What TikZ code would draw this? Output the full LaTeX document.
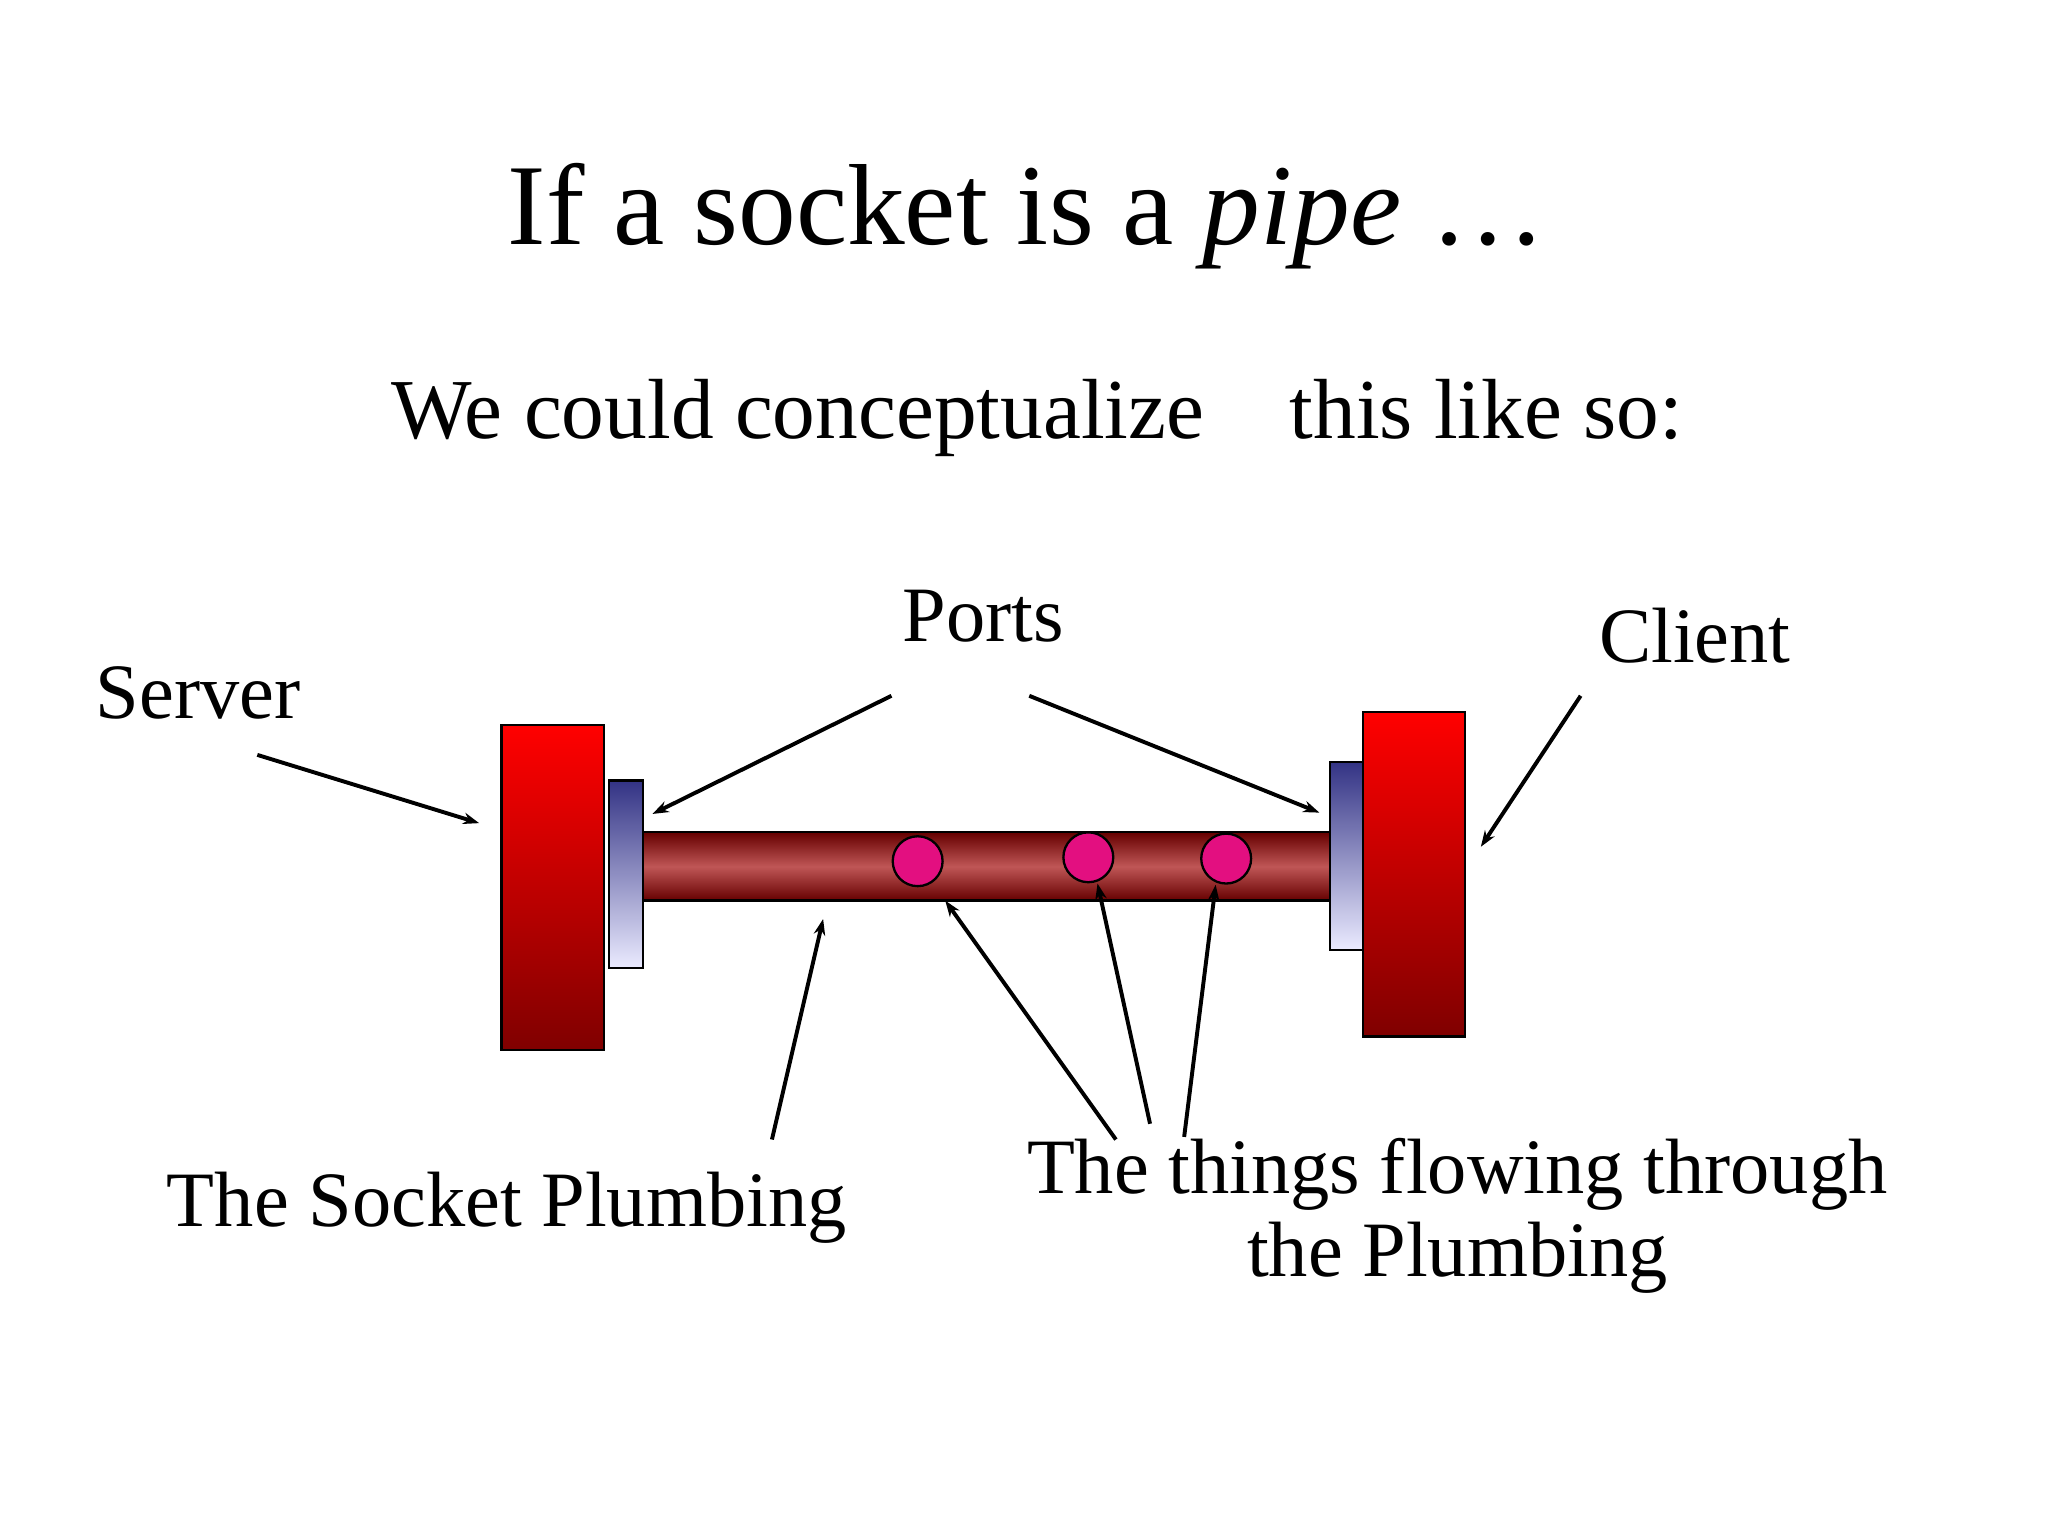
\documentclass[tikz,border=0pt]{standalone}
\usepackage{fontspec}
\setmainfont{Liberation Serif}
\usetikzlibrary{arrows.meta}
\begin{document}
\begin{tikzpicture}[x=0.02cm,y=-0.02cm,
  lbl/.style={inner sep=0pt,font=\fontsize{34}{40}\selectfont},
  arr/.style={line width=1.7pt,-{Stealth[length=7pt,width=5pt]}},
  block/.style={draw=black,line width=1pt,top color=red,bottom color=red!50!black},
  port/.style={draw=black,line width=1pt,top color=blue!40!black!80,bottom color=blue!8!white},
  ball/.style={circle,draw=black,line width=1pt,fill=magenta!80!purple,minimum size=0.76cm,inner sep=0pt}]
\useasboundingbox (0,0) rectangle (1560,1170);
\fill[white] (0,0) rectangle (1560,1170);
\node[inner sep=0pt,font=\fontsize{50}{56}\selectfont] (title) at (782,165) {If a socket is a \textit{pipe} \dots};
\node[inner sep=0pt,font=\fontsize{37}{44}\selectfont] (sub) at (790,318) {We could conceptualize\quad this like so:};
% pipe
\shade[top color=red!40!black,bottom color=red!40!black,middle color=red!55!white!75!black] (490,634) rectangle (1013,686);
\draw[line width=1pt] (490,634) rectangle (1013,686);
\node[block,minimum width=1.56cm,minimum height=4.96cm,inner sep=0pt] (server) at (421,676) {};
\node[block,minimum width=1.56cm,minimum height=4.94cm,inner sep=0pt] (client) at (1077,666) {};
\node[port,minimum width=0.52cm,minimum height=2.86cm,inner sep=0pt] (lport) at (477,666) {};
\node[port,minimum width=0.5cm,minimum height=2.86cm,inner sep=0pt] (rport) at (1025.5,652) {};
\node[ball] (b1) at (699,656) {};
\node[ball] (b2) at (829,653) {};
\node[ball] (b3) at (934,654) {};
% labels
\node[lbl] (ports) at (749,469) {Ports};
\node[lbl] (cl) at (1291,484) {Client};
\node[lbl] (sv) at (151,528) {Server};
\node[lbl] (sp) at (386,920) {The Socket Plumbing};
\node[lbl,align=center] (things) at (1110,926) {The things flowing through\\[-4pt]the Plumbing};
% coordinates
\coordinate (s1) at (196,575); \coordinate (s2) at (365,627);
\coordinate (p1) at (679,530); \coordinate (p2) at (497,620);
\coordinate (p3) at (784,530); \coordinate (p4) at (1005,619);
\coordinate (c1) at (1204,530); \coordinate (c2) at (1128,645);
\coordinate (q1) at (588,868); \coordinate (q2) at (627,700);
\coordinate (t1) at (850,868); \coordinate (t2) at (720,686);
\coordinate (t3) at (876,856); \coordinate (t4) at (836,673);
\coordinate (t5) at (902,866); \coordinate (t6) at (926,674);
\draw[arr] (s1) -- (s2);
\draw[arr] (p1) -- (p2);
\draw[arr] (p3) -- (p4);
\draw[arr] (c1) -- (c2);
\draw[arr] (q1) -- (q2);
\draw[arr] (t1) -- (t2);
\draw[arr] (t3) -- (t4);
\draw[arr] (t5) -- (t6);
\end{tikzpicture}
\end{document}
